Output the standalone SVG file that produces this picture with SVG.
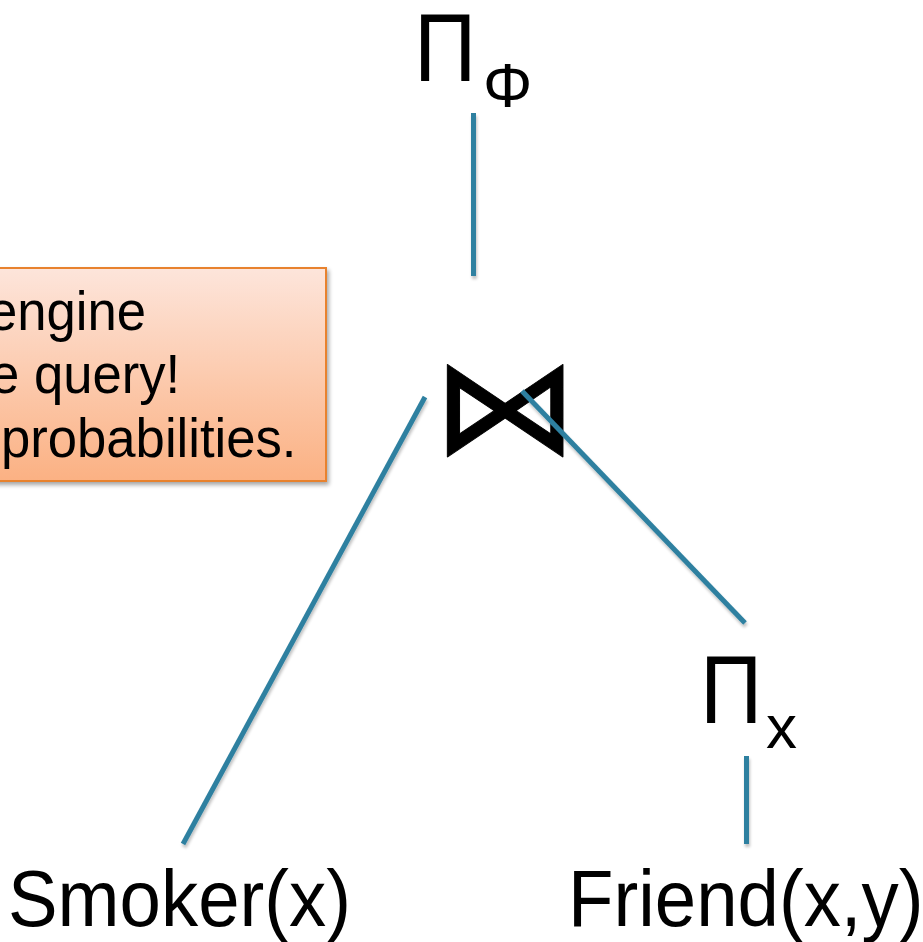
<svg xmlns="http://www.w3.org/2000/svg" width="923" height="942" viewBox="0 0 923 942">
<defs>
<linearGradient id="boxg" x1="0" y1="0" x2="0" y2="1">
<stop offset="0" stop-color="#fde5db"/>
<stop offset="1" stop-color="#fbb183"/>
</linearGradient>
<filter id="sh" x="-20%" y="-20%" width="140%" height="140%">
<feGaussianBlur in="SourceAlpha" stdDeviation="2"/>
<feOffset dx="2" dy="3" result="b"/>
<feComponentTransfer><feFuncA type="linear" slope="0.35"/></feComponentTransfer>
<feMerge><feMergeNode/><feMergeNode in="SourceGraphic"/></feMerge>
</filter>
<filter id="lsh" x="-20%" y="-20%" width="140%" height="140%">
<feGaussianBlur in="SourceAlpha" stdDeviation="1.5"/>
<feOffset dx="1" dy="3" result="b"/>
<feComponentTransfer><feFuncA type="linear" slope="0.25"/></feComponentTransfer>
<feMerge><feMergeNode/><feMergeNode in="SourceGraphic"/></feMerge>
</filter>
</defs>
<style>
.t{font-family:"Liberation Sans",Arial,sans-serif;fill:#000}
.edge{stroke:#2f80a0;stroke-width:5;fill:none}
</style>
<g id="note">
<rect x="-10" y="268" width="336" height="213" fill="url(#boxg)" stroke="#e8822e" stroke-width="2" filter="url(#sh)"/>
<text class="t" font-size="54" transform="translate(-12,330) scale(0.975,1.02)">engine</text>
<text class="t" font-size="54" transform="translate(-10,393) scale(0.975,1.02)">e query!</text>
<text class="t" font-size="54" transform="translate(1,457) scale(0.975,1.02)">probabilities.</text>
</g>
<g id="proj-phi">
<text class="t" font-size="96" transform="translate(414,81) scale(0.9,1)">Π</text>
<text class="t" font-size="63" transform="translate(483,107) scale(0.98,1)">Φ</text>
</g>
<g id="join">
<text font-family="DejaVu Sans,sans-serif" font-size="150" fill="#000" stroke="#000" stroke-width="1" stroke-linejoin="bevel" text-anchor="middle" transform="translate(505.5,453) scale(0.98,0.9)">⋈</text>
</g>
<g id="proj-x">
<text class="t" font-size="96" transform="translate(700,723) scale(0.9,1)">Π</text>
<text class="t" font-size="62" transform="translate(766,748)">x</text>
</g>
<g id="smoker">
<text class="t" font-size="80" transform="translate(8,926) scale(0.93,1)">Smoker(x)</text>
</g>
<g id="friend">
<text class="t" font-size="80" transform="translate(568,926) scale(0.93,1)">Friend(x,y)</text>
</g>
<g id="connectors" filter="url(#lsh)">
<line class="edge" x1="473.5" y1="113" x2="473.5" y2="276"/>
<line class="edge" x1="425" y1="397" x2="183" y2="844"/>
<line class="edge" x1="522" y1="391" x2="745" y2="623"/>
<line class="edge" x1="746.5" y1="756" x2="746.5" y2="844"/>
</g>
</svg>
